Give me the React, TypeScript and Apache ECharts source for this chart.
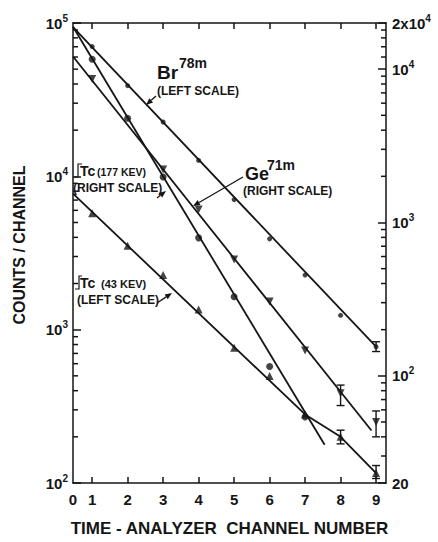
import React, { useEffect, useRef } from "react";
import * as echarts from "echarts";

// ---- axis layout values ----
const CH0_POS = 0.46; // drawn position of channel "0" (compressed origin)
const X_MAX = 9.28;
const channelTicks = [1, 2, 3, 4, 5, 6, 7, 8, 9];
const LEFT_MIN = 100;
const LEFT_MAX = 100000;
const RIGHT_MIN = 20;
const RIGHT_MAX = 20000;
const leftMinorTicks = [200, 300, 400, 500, 600, 700, 800, 900, 2000, 3000, 4000, 5000, 6000, 7000, 8000, 9000, 20000, 30000, 40000, 50000, 60000, 70000, 80000, 90000];
const rightMinorTicks = [30, 40, 50, 60, 70, 80, 90, 200, 300, 400, 500, 600, 700, 800, 900, 2000, 3000, 4000, 5000, 6000, 7000, 8000, 9000, 12000, 14000, 16000, 18000];

// ---- Br78m (left scale), small dots ----
const brChannels = [1, 2, 3, 4, 5, 6, 7, 8, 9];
const brCounts = [70200, 39000, 22600, 12700, 7050, 3910, 2270, 1240, 774];
const brErrChannels = [9];
const brErrLow = [720];
const brErrHigh = [834];
const brFitChannels = [CH0_POS, 9];
const brFitCounts = [94000, 774];

// ---- Tc 177 keV (right scale), circles ----
const tc177Channels = [1, 2, 3, 4, 5, 6, 7];
const tc177Counts = [11600, 4780, 1980, 794, 328, 115, 54];
const tc177FitChannels = [CH0_POS, 7.55];
const tc177FitCounts = [18900, 35.5];

// ---- Ge71m (right scale), down triangles ----
const ge71Channels = [1, 3, 4, 5, 6, 7, 8, 9];
const ge71Counts = [8640, 2220, 1216, 574, 305, 146, 77, 50];
const ge71ErrChannels = [8, 9];
const ge71ErrLow = [64, 40];
const ge71ErrHigh = [87, 59];
const ge71FitChannels = [CH0_POS, 8.87];
const ge71FitCounts = [12100, 44];

// ---- Tc 43 keV (left scale), up triangles ----
const tc43Channels = [1, 2, 3, 4, 5, 6, 7, 8, 9];
const tc43Counts = [5740, 3530, 2270, 1355, 762, 498, 280, 200, 116];
const tc43ErrChannels = [8, 9];
const tc43ErrLow = [180, 107];
const tc43ErrHigh = [221, 130];
const tc43LineChannels = [CH0_POS, 7, 8, 9];
const tc43LineCounts = [7710, 280, 200, 116];

const INK = "#151515";
const FONT = '"Liberation Sans", Arial, sans-serif';

const zip = (xs: number[], ys: number[]) => xs.map((x, i) => [x, ys[i]]);

function supLabel(v: number, isRight: boolean): string {
  if (isRight && Math.abs(v - 20) < 1e-6) return "{b|20}";
  if (isRight && Math.abs(v - 20000) < 1e-3) return "{b|2x10}{s|4}";
  const e = Math.round(Math.log10(v));
  return "{b|10}{s|" + e + "}";
}

const richLabel = {
  b: { fontSize: 15, fontWeight: "bold", fontFamily: FONT, color: INK, lineHeight: 20, verticalAlign: "middle" },
  s: { fontSize: 10, fontWeight: "bold", fontFamily: FONT, color: INK, lineHeight: 10, verticalAlign: "top" },
};

function errSeries(name: string, yAxisIndex: number, xs: number[], lo: number[], hi: number[]) {
  return {
    name,
    type: "custom",
    xAxisIndex: 0,
    yAxisIndex,
    clip: false,
    z: 5,
    encode: { x: 0, y: [1, 2] },
    data: xs.map((x, i) => [x, lo[i], hi[i]]),
    renderItem: (_p: any, api: any) => {
      const a = api.coord([api.value(0), api.value(1)]);
      const b = api.coord([api.value(0), api.value(2)]);
      const st = { stroke: INK, lineWidth: 1.4 };
      return {
        type: "group",
        children: [
          { type: "line", shape: { x1: a[0], y1: a[1], x2: b[0], y2: b[1] }, style: st },
          { type: "line", shape: { x1: a[0] - 4, y1: a[1], x2: a[0] + 4, y2: a[1] }, style: st },
          { type: "line", shape: { x1: b[0] - 4, y1: b[1], x2: b[0] + 4, y2: b[1] }, style: st },
        ],
      };
    },
  };
}

// Minor tick marks on an axis edge, placed through the axis scale
function tickSeries(yAxisIndex: number, xEdge: number, values: number[], dir: number, len: number) {
  return {
    type: "custom",
    xAxisIndex: 0,
    yAxisIndex,
    clip: false,
    silent: true,
    z: 10,
    encode: { x: 0, y: 1 },
    data: values.map((v) => [xEdge, v]),
    renderItem: (_p: any, api: any) => {
      const p = api.coord([api.value(0), api.value(1)]);
      return {
        type: "group",
        children: [
          {
            type: "line",
            shape: { x1: p[0], y1: p[1], x2: p[0] + dir * len, y2: p[1] },
            style: { stroke: INK, lineWidth: 1.5 },
          },
        ],
      };
    },
  };
}

function fitLine(name: string, yAxisIndex: number, xs: number[], ys: number[]) {
  return {
    name,
    type: "line",
    xAxisIndex: 0,
    yAxisIndex,
    data: zip(xs, ys),
    symbol: "none",
    lineStyle: { color: INK, width: 1.8 },
    z: 3,
  };
}

function points(name: string, yAxisIndex: number, xs: number[], ys: number[], symbol: string, size: number, rotate = 0) {
  return {
    name,
    type: "scatter",
    xAxisIndex: 0,
    yAxisIndex,
    data: zip(xs, ys),
    symbol,
    symbolSize: size,
    symbolRotate: rotate,
    itemStyle: { color: INK },
    z: 6,
  };
}

function txt(text: string, x: number, y: number, size: number, align = "left") {
  return {
    type: "text",
    x,
    y,
    style: {
      text,
      fill: INK,
      font: `bold ${size}px ${FONT}`,
      textAlign: align,
      textVerticalAlign: "middle",
    },
  };
}

function arrow(x1: number, y1: number, x2: number, y2: number) {
  const ang = Math.atan2(y2 - y1, x2 - x1);
  const L = 7;
  const W = 2.8;
  const bx = x2 - L * Math.cos(ang);
  const by = y2 - L * Math.sin(ang);
  const nx = -Math.sin(ang) * W;
  const ny = Math.cos(ang) * W;
  return [
    { type: "line", shape: { x1, y1, x2: bx, y2: by }, style: { stroke: INK, lineWidth: 1.3 } },
    {
      type: "polygon",
      shape: { points: [[x2, y2], [bx + nx, by + ny], [bx - nx, by - ny]] },
      style: { fill: INK },
    },
  ];
}

export default function App() {
  const ref = useRef<HTMLDivElement>(null);
  useEffect(() => {
    if (!ref.current) return;
    const chart = echarts.init(ref.current, undefined, { renderer: "svg" });
    const axisLine = { show: true, lineStyle: { color: INK, width: 1.5 } };
    const option: any = {
      animation: false,
      backgroundColor: "#ffffff",
      grid: { left: 73, right: 52, top: 23, bottom: 50 },
      xAxis: [
        {
          type: "value",
          position: "bottom",
          min: CH0_POS,
          max: X_MAX,
          axisLine,
          splitLine: { show: false },
          axisTick: { show: true, inside: true, length: 6, customValues: channelTicks, lineStyle: { color: INK, width: 1.5 } },
          axisLabel: {
            customValues: [CH0_POS, ...channelTicks],
            margin: 9,
            fontSize: 15,
            fontWeight: "bold",
            fontFamily: FONT,
            color: INK,
            formatter: (v: number) => (Math.abs(v - CH0_POS) < 1e-6 ? "0" : String(Math.round(v))),
          },
          name: "TIME - ANALYZER  CHANNEL NUMBER",
          nameLocation: "middle",
          nameGap: 37,
          nameTextStyle: { fontSize: 17, fontWeight: "bold", fontFamily: FONT, color: INK },
        },
        {
          type: "value",
          position: "top",
          min: CH0_POS,
          max: X_MAX,
          axisLine,
          splitLine: { show: false },
          axisTick: { show: true, inside: true, length: 6, customValues: channelTicks, lineStyle: { color: INK, width: 1.5 } },
          axisLabel: { show: false },
        },
      ],
      yAxis: [
        {
          type: "log",
          logBase: 10,
          position: "left",
          min: LEFT_MIN,
          max: LEFT_MAX,
          axisLine,
          splitLine: { show: false },
          axisTick: { show: true, inside: true, length: 8, lineStyle: { color: INK, width: 1.5 } },
          axisLabel: { margin: 5, formatter: (v: number) => supLabel(v, false), rich: richLabel },
        },
        {
          type: "log",
          logBase: 10,
          position: "right",
          min: RIGHT_MIN,
          max: RIGHT_MAX,
          axisLine,
          splitLine: { show: false },
          axisTick: { show: true, inside: true, length: 8, lineStyle: { color: INK, width: 1.5 } },
          axisLabel: { margin: 6, formatter: (v: number) => supLabel(v, true), rich: richLabel },
        },
      ],
      series: [
        tickSeries(0, CH0_POS, leftMinorTicks, 1, 5),
        tickSeries(1, X_MAX, rightMinorTicks, -1, 5),
        fitLine("Br78m fit", 0, brFitChannels, brFitCounts),
        fitLine("Tc 177 keV fit", 1, tc177FitChannels, tc177FitCounts),
        fitLine("Ge71m fit", 1, ge71FitChannels, ge71FitCounts),
        fitLine("Tc 43 keV line", 0, tc43LineChannels, tc43LineCounts),
        points("Br78m", 0, brChannels, brCounts, "circle", 5),
        points("Tc 177 keV", 1, tc177Channels, tc177Counts, "circle", 7),
        points("Ge71m", 1, ge71Channels, ge71Counts, "triangle", 8, 180),
        points("Tc 43 keV", 0, tc43Channels, tc43Counts, "triangle", 8),
        errSeries("Br78m err", 0, brErrChannels, brErrLow, brErrHigh),
        errSeries("Ge71m err", 1, ge71ErrChannels, ge71ErrLow, ge71ErrHigh),
        errSeries("Tc 43 keV err", 0, tc43ErrChannels, tc43ErrLow, tc43ErrHigh),
      ],
      graphic: [
        {
          type: "text",
          x: 19,
          y: 245,
          rotation: Math.PI / 2,
          style: {
            text: "COUNTS / CHANNEL",
            fill: INK,
            font: `bold 16px ${FONT}`,
            textAlign: "center",
            textVerticalAlign: "middle",
          },
        },
        txt("Br", 157, 72, 19),
        txt("78m", 179, 63, 14),
        txt("(LEFT SCALE)", 157, 91, 12),
        ...arrow(156, 96, 146, 105),
        txt("Ge", 245, 174, 18),
        txt("71m", 267, 165, 14),
        txt("(RIGHT SCALE)", 243, 191, 12),
        ...arrow(243, 177, 193, 206),
        { type: "polyline", shape: { points: [[74, 177], [78, 177], [78, 164], [82, 164]] }, style: { stroke: INK, lineWidth: 1.2, fill: null } },
        txt("Tc", 80, 171, 14),
        txt("(177 KEV)", 97, 172, 10.5),
        txt("(RIGHT SCALE)", 73, 188, 12),
        ...arrow(157, 198, 166, 191),
        { type: "polyline", shape: { points: [[75, 289], [79, 289], [79, 276], [82, 276]] }, style: { stroke: INK, lineWidth: 1.2, fill: null } },
        txt("Tc", 80, 283, 14),
        txt("(43 KEV)", 101, 284, 11),
        txt("(LEFT SCALE)", 77, 300, 12),
        ...arrow(157, 303, 172, 293),
      ],
    };
    chart.setOption(option);
    return () => chart.dispose();
  }, []);
  return <div ref={ref} style={{ position: "fixed", left: 0, top: 0, width: 438, height: 542, background: "#fff" }} />;
}
